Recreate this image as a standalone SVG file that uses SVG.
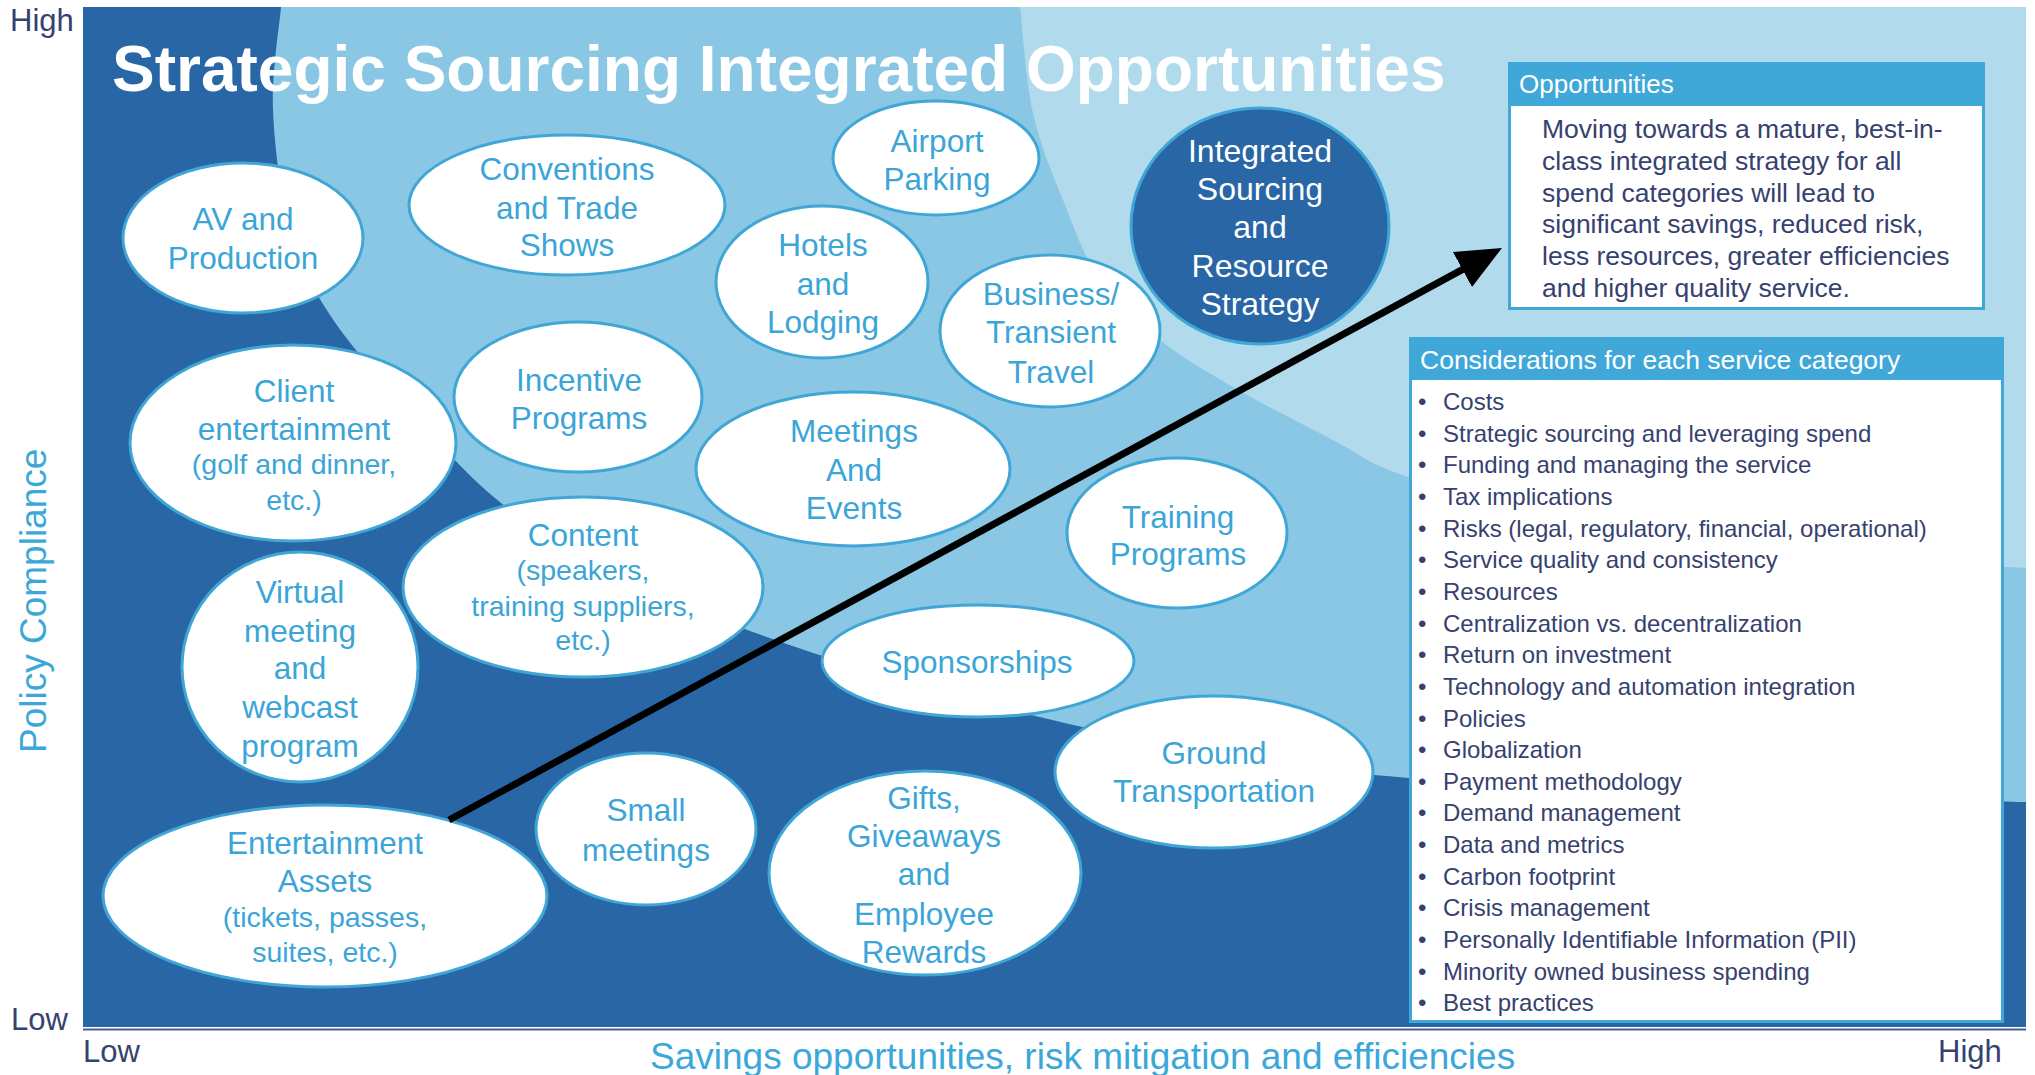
<svg xmlns="http://www.w3.org/2000/svg" width="2035" height="1075" viewBox="0 0 2035 1075">
<defs>
<style>
.bg-dark{fill:#2866a6}
.bg-mid{fill:#89c7e4}
.bg-light{fill:#b1dbec}
.node ellipse{fill:#ffffff;stroke:#3fa6d6;stroke-width:3}
.node.dark ellipse{fill:#2866a6}
.nt{font-family:"Liberation Sans",Arial,sans-serif;font-size:31.5px;fill:#3ba5d8;text-anchor:middle}
.nt.sm{font-size:28.5px}
.node.dark .nt{fill:#ffffff;font-size:32px}
.axis{font-family:"Liberation Sans",Arial,sans-serif;font-size:31px;fill:#36416f}
.axis-title{font-family:"Liberation Sans",Arial,sans-serif;font-size:37px;fill:#3ba8d9}
.title{font-family:"Liberation Sans",Arial,sans-serif;font-size:64px;font-weight:bold;fill:#ffffff}
.panel-box{fill:#ffffff;stroke:#40a8d8;stroke-width:3}
.panel-head{fill:#40a8d8}
.ph{font-family:"Liberation Sans",Arial,sans-serif;font-size:26px;fill:#ffffff}
.pb{font-family:"Liberation Sans",Arial,sans-serif;font-size:26.5px;fill:#36416f}
.li{font-family:"Liberation Sans",Arial,sans-serif;font-size:24px;fill:#36416f}
.conn{stroke:#000000;stroke-width:7;fill:none}
</style>
<marker id="arrow" viewBox="0 0 45 40" markerWidth="45" markerHeight="40" refX="5" refY="20" orient="auto" markerUnits="userSpaceOnUse">
<path d="M0,0 L45,20 L0,40 z" fill="#000000"/>
</marker>
</defs>

<g id="background">
<rect class="bg-dark" x="83" y="7" width="1943" height="1020"/>
<path class="bg-mid" d="M281,7 C279.7,24.2 271.5,72.8 273,110 C274.5,147.2 280.5,195.8 290,230 C299.5,264.2 311.7,286.7 330,315 C348.3,343.3 371.5,368.7 400,400 C428.5,431.3 464.3,473.8 501,503 C537.7,532.2 579.8,554.2 620,575 C660.2,595.8 695.3,610.5 742,628 C788.7,645.5 842.5,663.3 900,680 C957.5,696.7 1028.7,715 1087,728 C1145.3,741 1196.3,749.7 1250,758 C1303.7,766.3 1334,771.8 1409,778 C1484,784.2 1597,791 1700,795 C1803,799 1972.5,800.8 2026,802 L2026,7 Z"/>
<path class="bg-light" d="M1020,7 C1022.2,24.7 1025.8,80.8 1033,113 C1040.2,145.2 1051.8,172.2 1063,200 C1074.2,227.8 1083.8,256.7 1100,280 C1116.2,303.3 1137.8,322.2 1160,340 C1182.2,357.8 1204.2,370.3 1233,387 C1261.8,403.7 1303.8,425 1333,440 C1362.2,455 1363.5,462 1408,477 C1452.5,492 1534.7,517 1600,530 C1665.3,543 1729,548.7 1800,555 C1871,561.3 1988.3,565.8 2026,568 L2026,7 Z"/>
<line x1="83" y1="1029.5" x2="2026" y2="1029.5" stroke="#4d5d8c" stroke-width="2"/>
</g>

<text class="title" x="112" y="91">Strategic Sourcing Integrated Opportunities</text>

<g id="axes">
<text class="axis" x="10" y="31">High</text>
<text class="axis" x="11" y="1030">Low</text>
<text class="axis" x="83" y="1062">Low</text>
<text class="axis" x="1938" y="1062">High</text>
<text class="axis-title" x="650" y="1069">Savings opportunities, risk mitigation and efficiencies</text>
<text class="axis-title" transform="translate(46,753) rotate(-90)" x="0" y="0">Policy Compliance</text>
</g>

<g id="node-av" class="node">
<ellipse cx="243" cy="238" rx="120" ry="75"/>
<text class="nt" x="243" y="230">AV and</text>
<text class="nt" x="243" y="269">Production</text>
</g>
<g id="node-conventions" class="node">
<ellipse cx="567" cy="205" rx="158" ry="70"/>
<text class="nt" x="567" y="180">Conventions</text>
<text class="nt" x="567" y="219">and Trade</text>
<text class="nt" x="567" y="256">Shows</text>
</g>
<g id="node-airport" class="node">
<ellipse cx="936" cy="158" rx="103" ry="57"/>
<text class="nt" x="937" y="152">Airport</text>
<text class="nt" x="937" y="190">Parking</text>
</g>
<g id="node-hotels" class="node">
<ellipse cx="822" cy="282" rx="106" ry="76"/>
<text class="nt" x="823" y="256">Hotels</text>
<text class="nt" x="823" y="295">and</text>
<text class="nt" x="823" y="333">Lodging</text>
</g>
<g id="node-business" class="node">
<ellipse cx="1050" cy="331" rx="110" ry="76"/>
<text class="nt" x="1051" y="305">Business/</text>
<text class="nt" x="1051" y="343">Transient</text>
<text class="nt" x="1051" y="383">Travel</text>
</g>
<g id="node-integrated" class="node dark">
<ellipse cx="1260" cy="226" rx="129" ry="118"/>
<text class="nt" x="1260" y="162">Integrated</text>
<text class="nt" x="1260" y="200">Sourcing</text>
<text class="nt" x="1260" y="238">and</text>
<text class="nt" x="1260" y="277">Resource</text>
<text class="nt" x="1260" y="315">Strategy</text>
</g>
<g id="node-client" class="node">
<ellipse cx="293" cy="443" rx="163" ry="98"/>
<text class="nt" x="294" y="402">Client</text>
<text class="nt" x="294" y="440">entertainment</text>
<text class="nt sm" x="294" y="474">(golf and dinner,</text>
<text class="nt sm" x="294" y="510">etc.)</text>
</g>
<g id="node-incentive" class="node">
<ellipse cx="578" cy="397" rx="124" ry="75"/>
<text class="nt" x="579" y="391">Incentive</text>
<text class="nt" x="579" y="429">Programs</text>
</g>
<g id="node-meetings" class="node">
<ellipse cx="853" cy="469" rx="157" ry="77"/>
<text class="nt" x="854" y="442">Meetings</text>
<text class="nt" x="854" y="481">And</text>
<text class="nt" x="854" y="519">Events</text>
</g>
<g id="node-training" class="node">
<ellipse cx="1177" cy="533" rx="110" ry="75"/>
<text class="nt" x="1178" y="528">Training</text>
<text class="nt" x="1178" y="565">Programs</text>
</g>
<g id="node-virtual" class="node">
<ellipse cx="300" cy="667" rx="118" ry="115"/>
<text class="nt" x="300" y="603">Virtual</text>
<text class="nt" x="300" y="642">meeting</text>
<text class="nt" x="300" y="679">and</text>
<text class="nt" x="300" y="718">webcast</text>
<text class="nt" x="300" y="757">program</text>
</g>
<g id="node-content" class="node">
<ellipse cx="583" cy="587" rx="180" ry="90"/>
<text class="nt" x="583" y="546">Content</text>
<text class="nt sm" x="583" y="580">(speakers,</text>
<text class="nt sm" x="583" y="616">training suppliers,</text>
<text class="nt sm" x="583" y="650">etc.)</text>
</g>
<g id="node-sponsorships" class="node">
<ellipse cx="978" cy="661" rx="156" ry="56"/>
<text class="nt" x="977" y="673">Sponsorships</text>
</g>
<g id="node-ground" class="node">
<ellipse cx="1214" cy="772" rx="159" ry="76"/>
<text class="nt" x="1214" y="764">Ground</text>
<text class="nt" x="1214" y="802">Transportation</text>
</g>
<g id="node-small" class="node">
<ellipse cx="646" cy="829" rx="110" ry="76"/>
<text class="nt" x="646" y="821">Small</text>
<text class="nt" x="646" y="861">meetings</text>
</g>
<g id="node-gifts" class="node">
<ellipse cx="925" cy="873" rx="156" ry="102"/>
<text class="nt" x="924" y="809">Gifts,</text>
<text class="nt" x="924" y="847">Giveaways</text>
<text class="nt" x="924" y="885">and</text>
<text class="nt" x="924" y="925">Employee</text>
<text class="nt" x="924" y="963">Rewards</text>
</g>
<g id="node-entertainment" class="node">
<ellipse cx="325" cy="896" rx="222" ry="91"/>
<text class="nt" x="325" y="854">Entertainment</text>
<text class="nt" x="325" y="892">Assets</text>
<text class="nt sm" x="325" y="927">(tickets, passes,</text>
<text class="nt sm" x="325" y="962">suites, etc.)</text>
</g>

<g id="connectors">
<line class="conn" x1="449" y1="820" x2="1466.8" y2="267.1" marker-end="url(#arrow)"/>
</g>

<g id="panel-opportunities">
<rect class="panel-box" x="1509.5" y="63.5" width="474" height="245"/>
<rect class="panel-head" x="1508" y="62" width="477" height="44"/>
<text class="ph" x="1519" y="93">Opportunities</text>
<text class="pb" x="1542" y="138">Moving towards a mature, best-in-</text>
<text class="pb" x="1542" y="170">class integrated strategy for all</text>
<text class="pb" x="1542" y="202">spend categories will lead to</text>
<text class="pb" x="1542" y="233">significant savings, reduced risk,</text>
<text class="pb" x="1542" y="265">less resources, greater efficiencies</text>
<text class="pb" x="1542" y="297">and higher quality service.</text>
</g>

<g id="panel-considerations">
<rect class="panel-box" x="1410.5" y="338.5" width="592" height="683"/>
<rect class="panel-head" x="1409" y="337" width="595" height="43"/>
<text class="ph" x="1420" y="369" style="font-size:26.5px">Considerations for each service category</text>
<g class="li">
<text x="1418" y="410">•</text><text x="1443" y="410">Costs</text>
<text x="1418" y="441.65">•</text><text x="1443" y="441.65">Strategic sourcing and leveraging spend</text>
<text x="1418" y="473.3">•</text><text x="1443" y="473.3">Funding and managing the service</text>
<text x="1418" y="504.95">•</text><text x="1443" y="504.95">Tax implications</text>
<text x="1418" y="536.6">•</text><text x="1443" y="536.6">Risks (legal, regulatory, financial, operational)</text>
<text x="1418" y="568.25">•</text><text x="1443" y="568.25">Service quality and consistency</text>
<text x="1418" y="599.9">•</text><text x="1443" y="599.9">Resources</text>
<text x="1418" y="631.55">•</text><text x="1443" y="631.55">Centralization vs. decentralization</text>
<text x="1418" y="663.2">•</text><text x="1443" y="663.2">Return on investment</text>
<text x="1418" y="694.85">•</text><text x="1443" y="694.85">Technology and automation integration</text>
<text x="1418" y="726.5">•</text><text x="1443" y="726.5">Policies</text>
<text x="1418" y="758.15">•</text><text x="1443" y="758.15">Globalization</text>
<text x="1418" y="789.8">•</text><text x="1443" y="789.8">Payment methodology</text>
<text x="1418" y="821.45">•</text><text x="1443" y="821.45">Demand management</text>
<text x="1418" y="853.1">•</text><text x="1443" y="853.1">Data and metrics</text>
<text x="1418" y="884.75">•</text><text x="1443" y="884.75">Carbon footprint</text>
<text x="1418" y="916.4">•</text><text x="1443" y="916.4">Crisis management</text>
<text x="1418" y="948.05">•</text><text x="1443" y="948.05">Personally Identifiable Information (PII)</text>
<text x="1418" y="979.7">•</text><text x="1443" y="979.7">Minority owned business spending</text>
<text x="1418" y="1011.35">•</text><text x="1443" y="1011.35">Best practices</text>
</g>
</g>
</svg>
